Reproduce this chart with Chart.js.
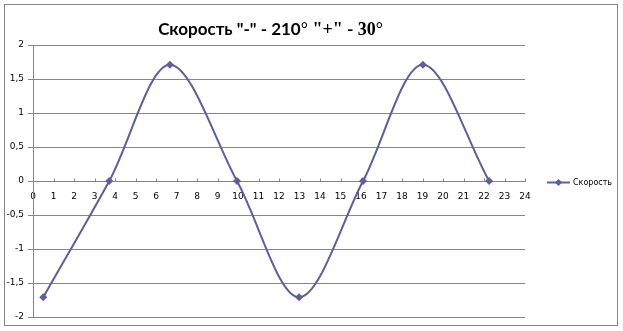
<!DOCTYPE html>
<html><head><meta charset="utf-8">
<script src="https://cdn.jsdelivr.net/npm/chart.js@4/dist/chart.umd.min.js"></script>
<style>html,body{margin:0;padding:0;background:#fff;}canvas{display:block;}</style>
</head><body>
<canvas id="c" width="623" height="331"></canvas>
<script>
// ---- data ----
const seriesName = 'Скорость';
const xValues = [0.5, 3.72, 6.68, 9.95, 12.98, 16.1, 19.02, 22.25];
const yValues = [-1.71, 0, 1.71, 0, -1.71, 0, 1.71, 0];
const xTicks = [0,1,2,3,4,5,6,7,8,9,10,11,12,13,14,15,16,17,18,19,20,21,22,23,24];
const xTickLabels = ['0','1','2','3','4','5','6','7','8','9','10','11','12','13','14','15','16','17','18','19','20','21','22','23','24'];
const yTicks = [-2,-1.5,-1,-0.5,0,0.5,1,1.5,2];
const yTickLabels = ['-2','-1,5','-1','-0,5','0','0,5','1','1,5','2'];
const titleRuns = ['Скорость "-" - 210', '° "+" - 30°'];

const LINE = '#5E5E9C';
const GRID = '#868686';
const TICKFONT = {family: 'DejaVu Sans', size: 9};

const points = xValues.map((x, i) => ({x: x, y: yValues[i]}));

const frame = {
  id: 'frame',
  beforeDraw(chart) {
    const ctx = chart.ctx;
    ctx.save();
    ctx.strokeStyle = GRID;
    ctx.lineWidth = 1;
    ctx.strokeRect(4.5, 4.5, 613, 321);
    ctx.restore();
  },
  beforeDatasetsDraw(chart) {
    const ctx = chart.ctx, xs = chart.scales.x, ys = chart.scales.y;
    const y0 = Math.round(ys.getPixelForValue(0)) + 0.5;
    ctx.save();
    ctx.strokeStyle = GRID;
    ctx.lineWidth = 1;
    ctx.beginPath();
    xTicks.forEach(v => {
      const px = Math.round(xs.getPixelForValue(v)) + 0.5;
      ctx.moveTo(px, y0 - 3);
      ctx.lineTo(px, y0);
    });
    ctx.stroke();
    ctx.restore();
  },
  afterDraw(chart) {
    const ctx = chart.ctx;
    ctx.save();
    // title
    const f1 = 'bold 17px Lato, "Open Sans", sans-serif';
    const f2 = 'bold 18px "Liberation Serif", serif';
    ctx.font = f1; const w1 = ctx.measureText(titleRuns[0]).width;
    ctx.font = f2; const w2 = ctx.measureText(titleRuns[1]).width;
    let x = 270.5 - (w1 + w2) / 2;
    ctx.fillStyle = '#000';
    ctx.textBaseline = 'alphabetic';
    ctx.textAlign = 'left';
    ctx.font = f1; ctx.fillText(titleRuns[0], x, 35);
    ctx.font = f2; ctx.fillText(titleRuns[1], x + w1, 35);
    // legend
    const ds = chart.data.datasets[0];
    const ly = 182.5;
    ctx.strokeStyle = ds.borderColor;
    ctx.lineWidth = 2;
    ctx.beginPath(); ctx.moveTo(547, ly); ctx.lineTo(570, ly); ctx.stroke();
    ctx.fillStyle = ds.backgroundColor;
    ctx.beginPath();
    ctx.moveTo(558.5, ly - 3.5); ctx.lineTo(562, ly); ctx.lineTo(558.5, ly + 3.5); ctx.lineTo(555, ly);
    ctx.closePath(); ctx.fill();
    ctx.fillStyle = '#000';
    ctx.font = '8px "DejaVu Sans"';
    ctx.textBaseline = 'middle';
    ctx.fillText(ds.label, 573, ly);
    ctx.restore();
  }
};

new Chart(document.getElementById('c'), {
  type: 'scatter',
  data: {
    datasets: [{
      label: seriesName,
      data: points,
      showLine: true,
      borderColor: LINE,
      backgroundColor: LINE,
      borderWidth: 2,
      tension: 0.33,
      pointStyle: 'rectRot',
      pointRadius: 4,
      pointHoverRadius: 4,
      pointBorderWidth: 0,
      clip: false
    }]
  },
  options: {
    responsive: false,
    animation: false,
    devicePixelRatio: 1,
    layout: {padding: {left: 0, top: 45, right: 98, bottom: 14}},
    plugins: {legend: {display: false}, title: {display: false}, tooltip: {enabled: false}},
    scales: {
      x: {
        type: 'linear',
        position: {y: 0},
        min: 0, max: 24,
        afterBuildTicks: s => { s.ticks = xTicks.map(v => ({value: v})); },
        ticks: {
          callback: (v, i) => xTickLabels[i],
          font: TICKFONT, color: '#000', padding: 10, maxRotation: 0, autoSkip: false
        },
        grid: {display: false, drawTicks: false},
        border: {display: true, color: GRID, width: 1}
      },
      y: {
        type: 'linear',
        min: -2, max: 2,
        afterBuildTicks: s => { s.ticks = yTicks.map(v => ({value: v})); },
        afterFit: s => { s.width = 33; },
        ticks: {
          callback: (v, i) => yTickLabels[i],
          font: TICKFONT, color: '#000', padding: 4, autoSkip: false
        },
        grid: {color: GRID, lineWidth: 1, tickLength: 5, drawTicks: true},
        border: {display: true, color: GRID, width: 1}
      }
    }
  },
  plugins: [frame]
});
</script>
</body></html>
